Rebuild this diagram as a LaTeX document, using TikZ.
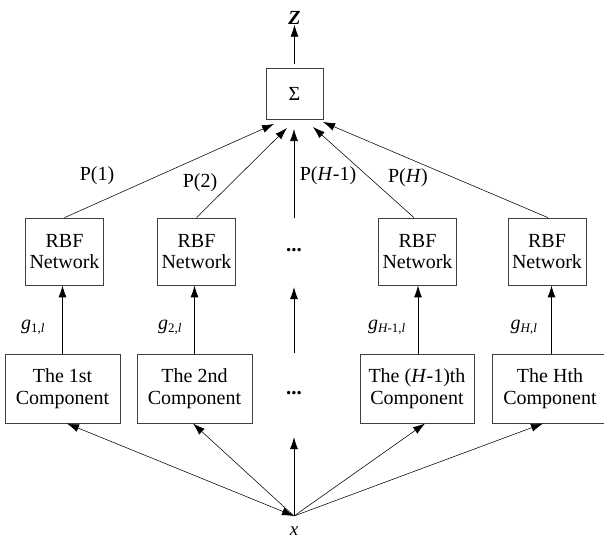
\documentclass[tikz,border=0pt]{standalone}
\usepackage{fontspec}
\setmainfont{Liberation Serif}
\usetikzlibrary{arrows.meta,calc}

\tikzset{
  blk/.style={draw=black!75, line width=0.7pt, inner sep=0pt, align=center,
              font=\fontsize{20}{21.5}\selectfont},
  rbf/.style={blk, minimum width=78pt, minimum height=67pt},
  comp/.style={blk, minimum width=115pt, minimum height=69pt},
  head/.tip={Latex[length=12pt,width=8pt]},
  thin/.style={line width=0.55pt, -head},
  bold/.style={line width=0.9pt, -head},
  lab/.style={font=\fontsize{20}{22}\selectfont, inner sep=0pt},
  glab/.style={font=\fontsize{20}{22}\selectfont\itshape, inner sep=0pt},
  dots/.style={font=\fontsize{21}{22}\selectfont\bfseries, inner sep=0pt},
}
\newcommand{\gsub}[1]{\textsubscript{\fontsize{13}{14}\selectfont #1}}

\begin{document}
\begin{tikzpicture}[x=1pt,y=-1pt]
  \useasboundingbox (0,0) rectangle (604,541);
  \begin{scope}
  \clip (0,0) rectangle (604,541);

  % output and summation
  \node[inner sep=0pt, font=\fontsize{20}{21}\selectfont\bfseries\itshape] (z) at (294.5,18) {Z};
  \node[blk, minimum width=57pt, minimum height=51pt] (sum) at (294.5,93.5) {Σ};

  % RBF networks
  \node[rbf] (r1) at (64.5,251.5) {RBF\\Network};
  \node[rbf] (r2) at (196.5,251.5) {RBF\\Network};
  \node[dots] (rd) at (294,250) {...};
  \node[rbf] (r4) at (417.5,251.5) {RBF\\Network};
  \node[rbf] (r5) at (547,251.5) {RBF\\Network};

  % components
  \node[comp] (c1) at (62.5,388.5) {The 1st\\Component};
  \node[comp] (c2) at (194.5,388.5) {The 2nd\\Component};
  \node[dots] (cd) at (294,393) {...};
  \node[comp, minimum width=114pt] (c4) at (417,388.5) {The (\textit{H}-1)th\\Component};
  \node[comp, minimum width=116pt] (c5) at (550,388.5) {The Hth\\Component};

  % input
  \coordinate (xp) at (294,516);
  \node[inner sep=0pt, font=\fontsize{19}{20}\selectfont\itshape] (xl) at (294,531) {x};

  % end points at the summation box
  \coordinate (s1) at (274,124);
  \coordinate (s2) at (287,128);
  \coordinate (s3) at (294,129);
  \coordinate (s4) at (313,127);
  \coordinate (s5) at (323,122);
  % free ends of the middle column
  \coordinate (m1) at (294,218);
  \coordinate (m2) at (294,353);
  \coordinate (m3) at (294,287);
  \coordinate (m4) at (294,437);
  % end points at the component boxes
  \coordinate (k1) at (67,423.5);
  \coordinate (k2) at (193,423.5);
  \coordinate (k4) at (425,423.5);
  \coordinate (k5) at (543,423.5);

  % summation to output
  \draw[thin] ($(sum.north)+(0,-4)$) -- (z.south);

  % RBF outputs to summation
  \draw[thin] (r1.north) -- (s1);
  \draw[thin] (r2.north) -- (s2);
  \draw[thin] (m1) -- (s3);
  \draw[thin] ($(r4.north)+(-3.5,0)$) -- (s4);
  \draw[thin] ($(r5.north)+(1,0)$) -- (s5);

  % components to RBF networks
  \draw[bold] (c1.north) -- (c1.north |- r1.south);
  \draw[bold] (c2.north) -- (c2.north |- r2.south);
  \draw[bold] (m2) -- (m3);
  \draw[bold] ($(c4.north)+(1,0)$) -- ($(c4.north |- r4.south)+(1,0)$);
  \draw[bold] ($(c5.north)+(1.5,0)$) -- ($(c5.north |- r5.south)+(1.5,0)$);

  % input to components
  \draw[thin, head-head] (xp) -- (k1);
  \draw[thin] (xp) -- (k2);
  \draw[bold] (xp) -- (m4);
  \draw[thin] (xp) -- (k4);
  \draw[thin] (xp) -- (k5);

  % weights
  \node[lab] (p1) at (97,176) {P(1)};
  \node[lab] (p2) at (200,183) {P(2)};
  \node[lab] (p4) at (328,176) {P(\textit{H}-1)};
  \node[lab] (p5) at (408,178) {P(\textit{H})};

  % component outputs
  \node[glab] (g1) at (33,327) {g\gsub{\upshape 1,\itshape l}};
  \node[glab] (g2) at (170,327) {g\gsub{\upshape 2,\itshape l}};
  \node[glab] (g4) at (387,327) {g\gsub{H\upshape -1,\itshape l}};
  \node[glab] (g5) at (524,327) {g\gsub{H,l}};
  \end{scope}
\end{tikzpicture}
\end{document}
